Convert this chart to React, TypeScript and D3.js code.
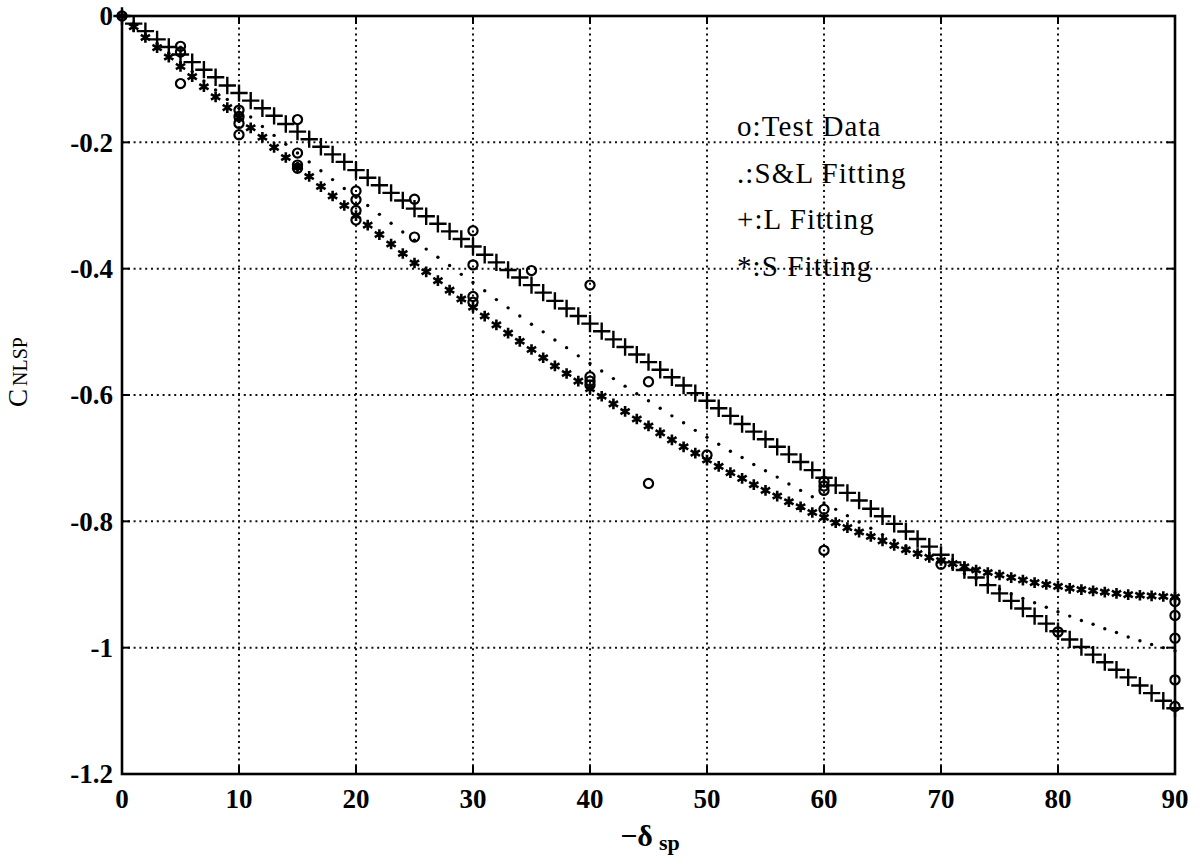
import React from "react";
import * as d3 from "d3";

// Spoiler deflection (deg), one sample per degree for the fitted curves
const deflection: number[] = d3.range(0, 91);

// S&L fitting (small dots)
const fitSL: number[] = [
  0, -0.015, -0.030, -0.044, -0.059, -0.074, -0.088, -0.103, -0.117, -0.132,
  -0.146, -0.160, -0.175, -0.189, -0.203, -0.217, -0.231, -0.245, -0.259, -0.273,
  -0.287, -0.300, -0.314, -0.328, -0.342, -0.355, -0.369, -0.382, -0.395, -0.409,
  -0.422, -0.435, -0.449, -0.462, -0.475, -0.488, -0.500, -0.513, -0.525, -0.538,
  -0.550, -0.562, -0.574, -0.586, -0.598, -0.609, -0.621, -0.633, -0.644, -0.656,
  -0.667, -0.678, -0.689, -0.699, -0.710, -0.720, -0.730, -0.741, -0.751, -0.761,
  -0.771, -0.781, -0.791, -0.801, -0.811, -0.821, -0.830, -0.839, -0.848, -0.857,
  -0.866, -0.874, -0.883, -0.891, -0.899, -0.907, -0.915, -0.922, -0.929, -0.936,
  -0.943, -0.950, -0.957, -0.963, -0.970, -0.976, -0.983, -0.989, -0.995, -1.000,
  -1.005,
];

// L fitting (+)
const fitL: number[] = [
  0, -0.012, -0.024, -0.037, -0.049, -0.061, -0.073, -0.085, -0.097, -0.110,
  -0.122, -0.134, -0.146, -0.158, -0.171, -0.183, -0.195, -0.207, -0.219, -0.231,
  -0.244, -0.256, -0.268, -0.280, -0.292, -0.305, -0.317, -0.329, -0.341, -0.353,
  -0.365, -0.378, -0.390, -0.402, -0.414, -0.426, -0.438, -0.451, -0.463, -0.475,
  -0.487, -0.499, -0.512, -0.524, -0.536, -0.548, -0.560, -0.572, -0.585, -0.597,
  -0.609, -0.621, -0.633, -0.646, -0.658, -0.670, -0.682, -0.694, -0.706, -0.719,
  -0.731, -0.743, -0.755, -0.767, -0.780, -0.792, -0.804, -0.816, -0.828, -0.840,
  -0.853, -0.865, -0.877, -0.889, -0.901, -0.914, -0.926, -0.938, -0.950, -0.962,
  -0.974, -0.987, -0.999, -1.011, -1.023, -1.035, -1.047, -1.060, -1.072, -1.084,
  -1.096,
];

// S fitting (*)
const fitS: number[] = [
  0, -0.017, -0.034, -0.050, -0.065, -0.080, -0.096, -0.112, -0.128, -0.145,
  -0.161, -0.177, -0.192, -0.208, -0.224, -0.239, -0.254, -0.270, -0.285, -0.300,
  -0.316, -0.331, -0.346, -0.361, -0.376, -0.391, -0.405, -0.419, -0.434, -0.448,
  -0.461, -0.475, -0.489, -0.502, -0.515, -0.528, -0.541, -0.554, -0.566, -0.578,
  -0.590, -0.602, -0.614, -0.626, -0.638, -0.649, -0.660, -0.671, -0.682, -0.692,
  -0.703, -0.713, -0.723, -0.732, -0.742, -0.751, -0.760, -0.769, -0.777, -0.786,
  -0.794, -0.802, -0.810, -0.817, -0.824, -0.831, -0.838, -0.845, -0.851, -0.857,
  -0.862, -0.867, -0.872, -0.877, -0.881, -0.885, -0.889, -0.893, -0.897, -0.900,
  -0.903, -0.906, -0.908, -0.910, -0.912, -0.914, -0.916, -0.917, -0.918, -0.919,
  -0.920,
];

// Test data (o)
const testDeflection: number[] = [
  0,
  5, 5, 5,
  10, 10, 10, 10,
  15, 15, 15, 15,
  20, 20, 20, 20,
  25, 25,
  30, 30, 30, 30,
  35,
  40, 40, 40, 40,
  45, 45,
  50,
  60, 60, 60, 60, 60,
  70,
  80,
  90, 90, 90, 90, 90,
];
const testCoef: number[] = [
  0,
  -0.048, -0.057, -0.107,
  -0.149, -0.159, -0.170, -0.188,
  -0.164, -0.217, -0.236, -0.241,
  -0.277, -0.291, -0.308, -0.323,
  -0.290, -0.350,
  -0.340, -0.394, -0.444, -0.453,
  -0.403,
  -0.426, -0.571, -0.578, -0.584,
  -0.579, -0.740,
  -0.695,
  -0.737, -0.744, -0.751, -0.781, -0.846,
  -0.868,
  -0.975,
  -0.927, -0.949, -0.985, -1.051, -1.093,
];

const xTicks: number[] = [0, 10, 20, 30, 40, 50, 60, 70, 80, 90];
const yTicks: number[] = [0, -0.2, -0.4, -0.6, -0.8, -1, -1.2];
const yTickLabels: string[] = ["0", "-0.2", "-0.4", "-0.6", "-0.8", "-1", "-1.2"];

const legendItems: string[] = ["o:Test Data", ".:S&L Fitting", "+:L Fitting", "*:S Fitting"];

const W = 1200;
const H = 868;
const plot = { left: 122, right: 1175, top: 16, bottom: 774 };

const x = d3.scaleLinear().domain([0, 90]).range([plot.left, plot.right]);
const y = d3.scaleLinear().domain([-1.2, 0]).range([plot.bottom, plot.top]);

const plusPath = d3.symbol(d3.symbolPlus, 100)() as string;
const starPath = d3.symbol(d3.symbolAsterisk, 80)() as string;
const circlePath = d3.symbol(d3.symbolCircle, 66)() as string;

const serif = "'Liberation Serif', 'DejaVu Serif', serif";

export default function App() {
  const tickLen = 8;
  return (
    <div style={{ position: "absolute", left: 0, top: 0 }}>
      <svg width={W} height={H} viewBox={`0 0 ${W} ${H}`} style={{ display: "block", background: "#fff" }}>
        <rect x={0} y={0} width={W} height={H} fill="#fff" />

        {/* dotted grid */}
        <g stroke="#111" strokeWidth={2} strokeDasharray="2 3.8">
          {xTicks.slice(1, -1).map((t) => (
            <line key={`gx${t}`} x1={x(t)} x2={x(t)} y1={plot.top} y2={plot.bottom} />
          ))}
          {yTicks.slice(1, -1).map((t) => (
            <line key={`gy${t}`} x1={plot.left} x2={plot.right} y1={y(t)} y2={y(t)} />
          ))}
        </g>

        {/* ticks on all four sides */}
        <g stroke="#000" strokeWidth={2}>
          {xTicks.map((t) => (
            <g key={`tx${t}`}>
              <line x1={x(t)} x2={x(t)} y1={plot.bottom} y2={plot.bottom - tickLen} />
              <line x1={x(t)} x2={x(t)} y1={plot.top} y2={plot.top + tickLen} />
            </g>
          ))}
          {yTicks.map((t) => (
            <g key={`ty${t}`}>
              <line x1={plot.left} x2={plot.left + tickLen} y1={y(t)} y2={y(t)} />
              <line x1={plot.right} x2={plot.right - tickLen} y1={y(t)} y2={y(t)} />
            </g>
          ))}
        </g>

        {/* frame */}
        <rect
          x={plot.left}
          y={plot.top}
          width={plot.right - plot.left}
          height={plot.bottom - plot.top}
          fill="none"
          stroke="#000"
          strokeWidth={2.6}
        />

        {/* S&L fitting: dots */}
        <g fill="#000">
          {deflection.map((d, i) => (
            <circle key={`sl${d}`} cx={x(d)} cy={y(fitSL[i])} r={1.7} />
          ))}
        </g>

        {/* L fitting: plus markers */}
        <g stroke="#000" strokeWidth={2.4} fill="none">
          {deflection.map((d, i) => (
            <path key={`l${d}`} d={plusPath} transform={`translate(${x(d)},${y(fitL[i])})`} />
          ))}
        </g>

        {/* S fitting: asterisk markers */}
        <g stroke="#000" strokeWidth={2.6} fill="none">
          {deflection.map((d, i) => (
            <path key={`s${d}`} d={starPath} transform={`translate(${x(d)},${y(fitS[i])})`} />
          ))}
        </g>

        {/* test data: open circles */}
        <g stroke="#000" strokeWidth={2.2} fill="none">
          {testDeflection.map((d, i) => (
            <path key={`o${i}`} d={circlePath} transform={`translate(${x(d)},${y(testCoef[i])})`} />
          ))}
        </g>

        {/* tick labels */}
        <g fontFamily={serif} fontSize={27} fontWeight="bold" fill="#000">
          {xTicks.map((t) => (
            <text key={`lx${t}`} x={x(t)} y={808} textAnchor="middle">
              {t}
            </text>
          ))}
          {yTicks.map((t, i) => (
            <text key={`ly${t}`} x={113} y={y(t)} dy="0.35em" textAnchor="end">
              {yTickLabels[i]}
            </text>
          ))}
        </g>

        {/* legend text */}
        <g fontFamily={serif} fontSize={29} letterSpacing={1.1} fill="#000">
          {legendItems.map((s, i) => (
            <text key={s} x={737} y={136 + i * 46.5}>
              {s}
            </text>
          ))}
        </g>

        {/* axis titles */}
        <text x={650} y={846} textAnchor="middle" fontFamily={serif} fontWeight="bold" fill="#000">
          <tspan fontSize={30}>{"\u2212\u03B4"}</tspan>
          <tspan fontSize={22} dx={6} dy={4}>sp</tspan>
        </text>
        <text
          transform="translate(27,372) rotate(-90)"
          textAnchor="middle"
          fontFamily={serif}
          fill="#000"
        >
          <tspan fontSize={27}>C</tspan>
          <tspan fontSize={20} dx={3}>NLSP</tspan>
        </text>
      </svg>
    </div>
  );
}
